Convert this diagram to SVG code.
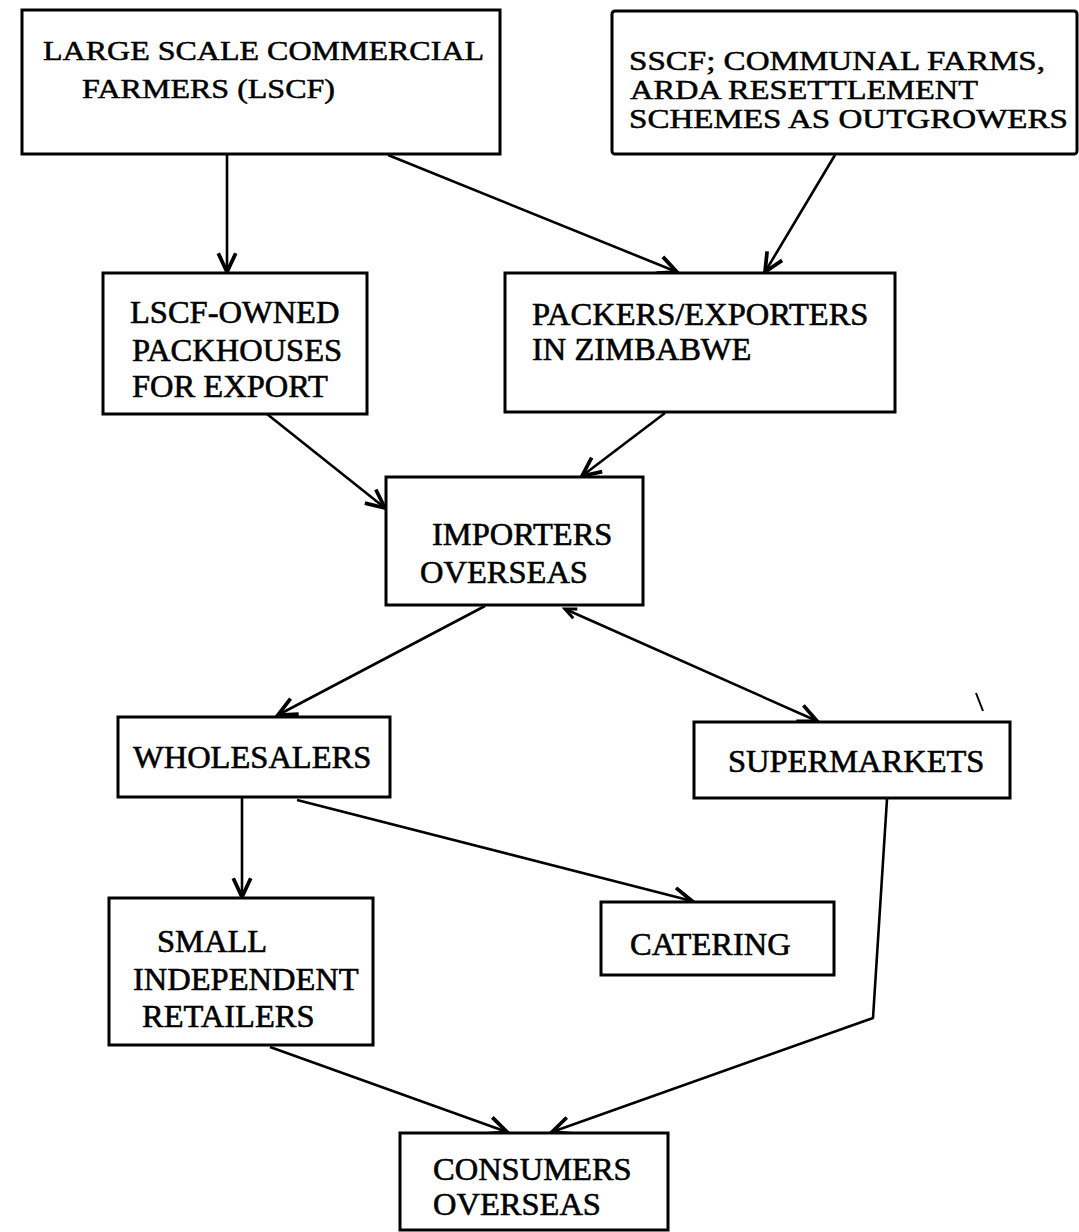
<svg xmlns="http://www.w3.org/2000/svg" width="1079" height="1232" viewBox="0 0 1079 1232">
<defs>
<style>
.box{fill:#fff;stroke:#000;stroke-width:3}
.t{font-family:"Liberation Serif","Times New Roman",serif;font-size:32.5px;fill:#000;stroke:#000;stroke-width:0.6}
.s{font-size:27px;stroke-width:0.5}
.c{fill:none;stroke:#000;stroke-width:2.6;stroke-linejoin:round}
</style>
<marker id="ah" markerUnits="userSpaceOnUse" markerWidth="30" markerHeight="30" viewBox="-20 -10 24 20" refX="0" refY="0" orient="auto">
<path d="M-15,-7 L0,0 L-15,7" fill="none" stroke="#000" stroke-width="3"/>
</marker>
<marker id="ahs" markerUnits="userSpaceOnUse" markerWidth="20" markerHeight="20" viewBox="-12 -7 16 14" refX="0" refY="0" orient="auto-start-reverse">
<path d="M-9,-4 L0,0 L-9,4" fill="none" stroke="#000" stroke-width="2.4"/>
</marker>
</defs>
<rect width="1079" height="1232" fill="#fff"/>
<g id="connectors">
<line class="c" x1="227" y1="155" x2="227" y2="272" marker-end="url(#ah)"/>
<line class="c" x1="388" y1="155" x2="677" y2="272" marker-end="url(#ah)"/>
<line class="c" x1="835" y1="155" x2="765" y2="272" marker-end="url(#ah)"/>
<line class="c" x1="267" y1="414" x2="385" y2="508" marker-end="url(#ah)"/>
<line class="c" x1="665" y1="413" x2="582" y2="476" marker-end="url(#ah)"/>
<line class="c" x1="485" y1="606" x2="278" y2="715" marker-end="url(#ah)"/>
<line class="c" x1="565" y1="609" x2="817" y2="721" marker-start="url(#ahs)" marker-end="url(#ah)"/>
<line class="c" x1="242" y1="797" x2="242" y2="897" marker-end="url(#ah)"/>
<line class="c" x1="297" y1="800" x2="692" y2="901" marker-end="url(#ah)"/>
<polyline class="c" points="887,799 873,1018 552,1132" marker-end="url(#ah)"/>
<line class="c" x1="270" y1="1047" x2="507" y2="1132" marker-end="url(#ah)"/>
</g>
<g id="lscf">
<rect class="box" x="22" y="10" width="478" height="144"/>
<text class="t s" x="43" y="60" textLength="441" lengthAdjust="spacingAndGlyphs">LARGE SCALE COMMERCIAL</text>
<text class="t s" x="82" y="98" textLength="253" lengthAdjust="spacingAndGlyphs">FARMERS (LSCF)</text>
</g>
<g id="sscf">
<rect class="box" x="612" y="11" width="465" height="143" rx="3"/>
<text class="t s" x="629" y="70" textLength="416" lengthAdjust="spacingAndGlyphs">SSCF; COMMUNAL FARMS,</text>
<text class="t s" x="630" y="99" textLength="348" lengthAdjust="spacingAndGlyphs">ARDA RESETTLEMENT</text>
<text class="t s" x="629" y="128" textLength="439" lengthAdjust="spacingAndGlyphs">SCHEMES AS OUTGROWERS</text>
</g>
<g id="lscf-owned">
<rect class="box" x="103" y="273" width="264" height="141"/>
<text class="t" x="130" y="323">LSCF-OWNED</text>
<text class="t" x="132" y="361">PACKHOUSES</text>
<text class="t" x="132" y="397">FOR EXPORT</text>
</g>
<g id="packers">
<rect class="box" x="505" y="273" width="390" height="139"/>
<text class="t" x="532" y="325">PACKERS/EXPORTERS</text>
<text class="t" x="532" y="360">IN ZIMBABWE</text>
</g>
<g id="importers">
<rect class="box" x="386" y="477" width="257" height="128"/>
<text class="t" x="432" y="545">IMPORTERS</text>
<text class="t" x="420" y="583">OVERSEAS</text>
</g>
<g id="wholesalers">
<rect class="box" x="118" y="717" width="272" height="80"/>
<text class="t" x="133" y="768">WHOLESALERS</text>
</g>
<g id="supermarkets">
<rect class="box" x="694" y="722" width="316" height="76"/>
<text class="t" x="728" y="772">SUPERMARKETS</text>
</g>
<g id="small-retailers">
<rect class="box" x="109" y="898" width="264" height="147"/>
<text class="t" x="157" y="952">SMALL</text>
<text class="t" x="133" y="990">INDEPENDENT</text>
<text class="t" x="142" y="1027">RETAILERS</text>
</g>
<g id="catering">
<rect class="box" x="601" y="902" width="233" height="73"/>
<text class="t" x="630" y="955">CATERING</text>
</g>
<g id="consumers">
<rect class="box" x="400" y="1133" width="268" height="97"/>
<text class="t" x="433" y="1180">CONSUMERS</text>
<text class="t" x="433" y="1215">OVERSEAS</text>
</g>
<line x1="976" y1="693" x2="983" y2="711" stroke="#000" stroke-width="2"/>
</svg>
